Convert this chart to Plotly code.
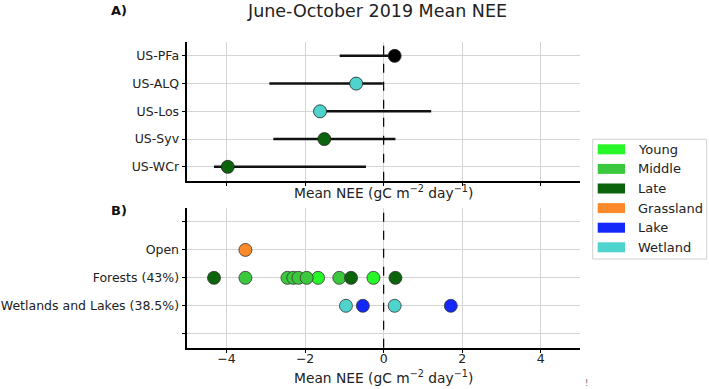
import plotly.graph_objects as go

# ---------------- data ----------------
# Panel A: individual sites (top to bottom)
site_names = ["US-PFa", "US-ALQ", "US-Los", "US-Syv", "US-WCr"]
site_mean = [0.28, -0.70, -1.62, -1.51, -3.97]
site_low = [-1.12, -2.91, -1.62, -2.81, -4.32]
site_high = [0.28, -0.02, 1.21, 0.30, -0.45]
site_class = ["Tower", "Wetland", "Wetland", "Late", "Late"]

# Panel B: groups (top to bottom, blank rows at ends)
group_labels = ["", "Open", "Forests (43%)", "Wetlands and Lakes (38.5%)", ""]
open_vals = [-3.52]
open_class = ["Grassland"]
forest_vals = [-4.32, -3.52, -2.45, -2.30, -2.17, -1.96, -1.67, -1.13, -0.83, -0.26, 0.30]
forest_class = ["Late", "Middle", "Middle", "Middle", "Middle", "Middle", "Young",
                "Middle", "Late", "Young", "Late"]
wet_vals = [-0.96, -0.53, 0.28, 1.71]
wet_class = ["Wetland", "Lake", "Wetland", "Lake"]

legend_classes = ["Young", "Middle", "Late", "Grassland", "Lake", "Wetland"]
x_ticks = [-4, -2, 0, 2, 4]

colors = {
    "Young": "#27f627",
    "Middle": "#3cc83c",
    "Late": "#0b640b",
    "Grassland": "#fd8a2a",
    "Lake": "#1428fa",
    "Wetland": "#4fd3cd",
    "Tower": "#000000",
}

W, H = 709, 389
FONT = "DejaVu Sans"


def px(x):
    return x / W


def py(y):
    return 1 - y / H


fig = go.Figure()

# Panel A
nA = len(site_names)
yA = [nA - 1 - i for i in range(nA)]
fig.add_trace(go.Scatter(
    x=site_mean, y=yA, mode="markers", xaxis="x", yaxis="y",
    marker=dict(size=13, color=[colors[c] for c in site_class],
                line=dict(width=0.8, color="#222")),
    error_x=dict(type="data", symmetric=False,
                 array=[h - m for h, m in zip(site_high, site_mean)],
                 arrayminus=[m - l for m, l in zip(site_mean, site_low)],
                 thickness=2.5, width=0, color="#111"),
    showlegend=False, hoverinfo="x+y",
))

# Panel B
nB = len(group_labels)
row_y = {lab: nB - 1 - i for i, lab in enumerate(group_labels) if lab}
groups = [("Open", open_vals, open_class),
          ("Forests (43%)", forest_vals, forest_class),
          ("Wetlands and Lakes (38.5%)", wet_vals, wet_class)]
for cls in legend_classes:
    xs, ys = [], []
    for lab, vals, clss in groups:
        for v, c in zip(vals, clss):
            if c == cls:
                xs.append(v)
                ys.append(row_y[lab])
    if xs:
        fig.add_trace(go.Scatter(
            x=xs, y=ys, mode="markers", xaxis="x2", yaxis="y2",
            marker=dict(size=13, color=colors[cls],
                        line=dict(width=0.8, color="#333")),
            showlegend=False, name=cls,
        ))

x0, x1 = px(187.3), px(580)
axis_common = dict(
    range=[-5, 5], tickvals=x_ticks, showgrid=True, gridcolor="#d4d4d4",
    gridwidth=1, zeroline=False, showline=True, linecolor="black",
    linewidth=1.5, ticks="outside", ticklen=4, tickcolor="black",
    tickfont=dict(family=FONT, size=12.5, color="#222"),
    domain=[x0, x1],
)
yaxis_common = dict(
    range=[-0.5, 4.5], showgrid=True, gridcolor="#d4d4d4", gridwidth=1,
    zeroline=False, showline=True, linecolor="black", linewidth=1.5,
    ticks="outside", ticklen=4, tickcolor="black",
    tickfont=dict(family=FONT, size=12.5, color="#222"),
)

fig.update_layout(
    width=W, height=H,
    margin=dict(l=0, r=0, t=0, b=0),
    paper_bgcolor="white", plot_bgcolor="white",
    showlegend=False,
    xaxis=dict(axis_common, anchor="y", showticklabels=False),
    yaxis=dict(yaxis_common, domain=[py(180.7), py(42)], anchor="x",
               tickvals=yA, ticktext=site_names),
    xaxis2=dict(axis_common, anchor="y2", ticklabelstandoff=-5),
    yaxis2=dict(yaxis_common, domain=[py(347.7), py(208)], anchor="x2",
                tickvals=[nB - 1 - i for i in range(nB)], ticktext=group_labels),
)

# dashed zero lines
for xr, yr in [("x", "y domain"), ("x2", "y2 domain")]:
    fig.add_shape(type="line", xref=xr, yref=yr, x0=0, x1=0, y0=0, y1=1,
                  line=dict(color="black", width=1.2, dash="dash"))

ann = []
ann.append(dict(text="June-October 2019 Mean NEE", x=px(377), y=py(11),
                xref="paper", yref="paper", showarrow=False,
                font=dict(family=FONT, size=17.5, color="#222"),
                xanchor="center", yanchor="middle"))
ann.append(dict(text="<b>A)</b>", x=px(109), y=py(11), xref="paper", yref="paper",
                showarrow=False, font=dict(family=FONT, size=13, color="#111"),
                xanchor="left", yanchor="middle"))
ann.append(dict(text="<b>B)</b>", x=px(109), y=py(210), xref="paper", yref="paper",
                showarrow=False, font=dict(family=FONT, size=13, color="#111"),
                xanchor="left", yanchor="middle"))
title_txt = "Mean NEE (gC m<sup>\u22122</sup> day<sup>\u22121</sup>)"
for yc in [191.5, 377]:
    ann.append(dict(text=title_txt, x=px(383.5), y=py(yc), xref="paper",
                    yref="paper", showarrow=False,
                    font=dict(family=FONT, size=13.8, color="#222"),
                    xanchor="center", yanchor="middle"))
ann.append(dict(text="!", x=px(586), y=py(383), xref="paper", yref="paper",
                showarrow=False, font=dict(family=FONT, size=8, color="#666"),
                xanchor="center", yanchor="middle"))

# manual legend
shapes = []
shapes.append(dict(type="rect", xref="paper", yref="paper",
                   x0=px(592.7), x1=px(706.7), y0=py(259), y1=py(139.3),
                   line=dict(color="#d0d0d0", width=1), fillcolor="white",
                   layer="below"))
for i, cls in enumerate(legend_classes):
    yc = 149.3 + i * 19.6
    shapes.append(dict(type="rect", xref="paper", yref="paper",
                       x0=px(597.7), x1=px(625), y0=py(yc + 5), y1=py(yc - 5),
                       line=dict(width=0), fillcolor=colors[cls]))
    ann.append(dict(text=cls, x=px(635.5), y=py(yc), xref="paper", yref="paper",
                    showarrow=False, font=dict(family=FONT, size=13, color="#222"),
                    xanchor="left", yanchor="middle"))

for s in shapes:
    fig.add_shape(**s)
fig.update_layout(annotations=ann)

fig.write_html("out.html",
               config={"displayModeBar": False},
               post_script="document.body.style.margin='0';"
                           "document.body.style.overflow='hidden';")
